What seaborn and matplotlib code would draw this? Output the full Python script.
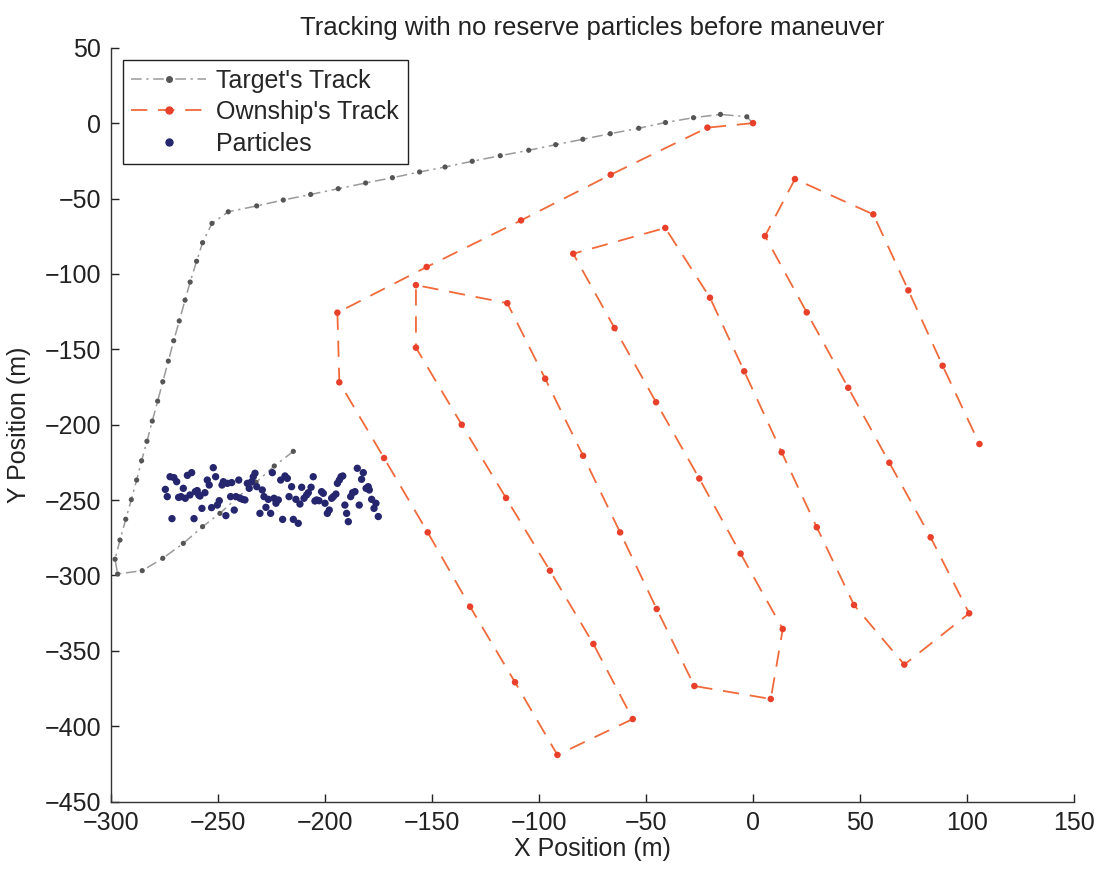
import matplotlib
matplotlib.use("Agg")
import matplotlib.pyplot as plt
import seaborn as sns
import pandas as pd
from matplotlib.lines import Line2D

# Target track (m)
target_x = [0, -2.9, -15.2, -27.8, -40.9, -53.4, -66.7, -79.5, -92.2, -104.8,
            -118.1, -131.2, -143.9, -155.8, -168.5, -181.0, -193.8, -206.7, -219.5, -231.9,
            -245.2, -252.8, -257.2, -260.0, -263.0, -265.4, -268.1, -270.7, -273.2, -275.8,
            -278.2, -280.7, -283.2, -285.7, -288.0, -290.5, -293.1, -295.8, -298.1, -296.9,
            -285.4, -275.8, -266.2, -257.2, -249.1, -240.5, -232.2, -223.7, -214.8]
target_y = [0, 4.2, 5.8, 3.6, 0.4, -3.4, -7.0, -10.7, -14.3, -18.0,
            -21.6, -25.3, -29.1, -32.4, -36.2, -39.7, -43.5, -47.3, -51.0, -54.9,
            -58.8, -66.5, -79.3, -91.6, -105.4, -117.4, -131.2, -144.3, -157.8, -171.5,
            -184.4, -197.6, -211.0, -223.9, -236.7, -249.7, -262.7, -276.5, -289.2, -299.0,
            -296.8, -288.6, -278.7, -267.6, -258.8, -247.7, -238.2, -227.4, -217.7]

# Ownship track (m)
own_x = [0, -21.3, -66.5, -108.4, -152.5, -194.2, -193.3, -172.4, -152.0, -132.2,
         -111.2, -91.4, -56.2, -74.6, -94.9, -115.4, -136.1, -157.5, -157.5, -114.8,
         -97.1, -79.4, -62.1, -45.0, -27.4, 8.3, 13.9, -5.8, -25.1, -45.3,
         -64.7, -84.0, -41.0, -20.1, -4.1, 13.4, 29.8, 47.2, 70.7, 101.0,
         83.0, 63.7, 44.5, 25.1, 5.6, 19.6, 56.2, 72.6, 88.6, 105.8]
own_y = [0, -3.0, -34.2, -64.5, -95.4, -125.7, -171.9, -222.1, -271.4, -320.7,
         -370.8, -419.0, -395.2, -345.4, -296.8, -248.6, -200.0, -148.9, -107.4, -119.4,
         -169.5, -220.6, -271.4, -322.2, -373.3, -381.9, -335.5, -285.5, -235.7, -185.1,
         -135.9, -86.6, -69.5, -115.8, -164.6, -218.3, -268.0, -319.6, -359.1, -325.1,
         -274.7, -225.2, -175.5, -125.5, -74.9, -37.1, -60.5, -110.9, -160.9, -212.8]

# Particle cloud (m)
part_x = [-274.6, -273.7, -272.4, -270.6, -269.3, -271.5, -268.4, -267.3, -266.2, -265.3,
          -264.3, -263.1, -262.3, -261.2, -260.6, -259.7, -259.0, -258.4, -257.5, -256.1,
          -255.0, -254.1, -253.0, -252.2, -251.1, -250.3, -249.4, -248.1, -247.5, -246.3,
          -245.6, -244.1, -243.6, -242.4, -241.6, -240.3, -239.7, -238.5, -237.4, -236.3,
          -235.4, -234.3, -233.5, -232.7, -231.9, -230.4, -229.3, -228.5, -227.6, -226.5,
          -225.4, -224.6, -223.8, -222.9, -221.8, -220.7, -219.8, -218.7, -217.6, -216.8,
          -215.6, -214.8, -213.6, -212.5, -211.7, -210.9, -209.8, -208.6, -207.8, -206.5,
          -205.5, -204.7, -203.9, -202.8, -201.6, -200.8, -200.0, -198.9, -198.0, -196.9,
          -196.1, -194.9, -194.2, -193.3, -192.5, -191.7, -190.7, -189.9, -189.1, -188.0,
          -187.1, -186.0, -184.9, -184.0, -182.9, -182.1, -180.8, -179.8, -179.3, -178.2,
          -177.1, -176.2, -175.1]
part_y = [-242.9, -247.7, -234.5, -235.1, -237.8, -262.3, -248.2, -247.7, -242.2, -248.8,
          -233.6, -246.6, -231.8, -262.3, -244.4, -243.7, -246.6, -247.3, -255.5, -245.1,
          -236.7, -240.0, -255.0, -228.5, -234.5, -253.3, -250.4, -240.0, -237.8, -260.3,
          -238.9, -247.7, -238.4, -256.6, -247.7, -236.7, -248.8, -249.5, -249.9, -238.9,
          -242.2, -237.8, -234.5, -232.2, -241.1, -258.8, -243.3, -247.7, -254.8, -249.5,
          -258.8, -231.8, -248.8, -252.1, -249.9, -236.7, -262.8, -234.0, -235.6, -247.7,
          -241.1, -262.8, -249.5, -265.4, -252.6, -241.5, -248.8, -246.6, -245.1, -241.5,
          -234.5, -250.6, -249.9, -250.4, -244.4, -245.5, -252.1, -258.8, -256.6, -248.8,
          -247.7, -246.0, -238.9, -236.7, -234.5, -234.0, -253.3, -258.8, -264.3, -247.7,
          -245.1, -244.4, -228.9, -253.3, -236.2, -231.8, -242.2, -241.1, -243.3, -249.5,
          -255.5, -252.1, -260.9]

x_ticks = [-300, -250, -200, -150, -100, -50, 0, 50, 100, 150]
y_ticks = [50, 0, -50, -100, -150, -200, -250, -300, -350, -400, -450]

sns.set_theme(style="white")
plt.rcParams["font.family"] = ["Liberation Sans", "DejaVu Sans"]
plt.rcParams["axes.unicode_minus"] = True
plt.rcParams["xtick.direction"] = "in"
plt.rcParams["ytick.direction"] = "in"

target_line = "#9a9a9a"
target_mark = "#555555"
own_line = "#f06a3a"
own_mark = "#e8402a"
part_col = "#25266e"
text_col = "#222222"

fig = plt.figure(figsize=(11.01, 8.71), dpi=100)
ax = fig.add_axes([0.1008, 0.0796, 0.8747, 0.8656])

df_t = pd.DataFrame({"x": target_x, "y": target_y})
df_o = pd.DataFrame({"x": own_x, "y": own_y})
df_p = pd.DataFrame({"x": part_x, "y": part_y})

target_ls = (0, (7, 3, 1.5, 3))
own_ls = (0, (9, 6))

sns.lineplot(data=df_t, x="x", y="y", sort=False, estimator=None, ax=ax,
             color=target_line, lw=1.1, linestyle=target_ls)
sns.scatterplot(data=df_t, x="x", y="y", ax=ax, color=target_mark, s=14,
                edgecolor="none", zorder=3)

sns.lineplot(data=df_o, x="x", y="y", sort=False, estimator=None, ax=ax,
             color=own_line, lw=1.3, linestyle=own_ls)
sns.scatterplot(data=df_o, x="x", y="y", ax=ax, color=own_mark, s=22,
                edgecolor="none", zorder=3)

sns.scatterplot(data=df_p, x="x", y="y", ax=ax, color=part_col, s=28,
                edgecolor="none", zorder=4)

ax.set_xlim(-300, 150)
ax.set_ylim(-450, 50)
ax.set_xticks(x_ticks)
ax.set_yticks(y_ticks)
ax.tick_params(axis="both", direction="in", length=6, width=1, labelsize=18,
               colors=text_col, left=True, bottom=True)
ax.tick_params(axis="x", pad=7)
ax.tick_params(axis="y", pad=7)
for side in ("top", "right"):
    ax.spines[side].set_visible(False)
for side in ("left", "bottom"):
    ax.spines[side].set_color("#333333")
    ax.spines[side].set_linewidth(1.0)

ax.set_xlabel("X Position (m)", fontsize=18, color=text_col, labelpad=1)
ax.set_ylabel("Y Position (m)", fontsize=18, color=text_col, labelpad=10)
ax.set_title("Tracking with no reserve particles before maneuver", fontsize=18.5,
             color=text_col, pad=9)

handles = [
    Line2D([], [], color=target_line, lw=1.1, linestyle=target_ls,
           marker="o", markersize=4, markerfacecolor=target_mark,
           markeredgecolor=target_mark),
    Line2D([], [], color=own_line, lw=1.3, linestyle=own_ls,
           marker="o", markersize=5, markerfacecolor=own_mark,
           markeredgecolor=own_mark),
    Line2D([], [], color=part_col, lw=0, marker="o", markersize=5,
           markerfacecolor=part_col, markeredgecolor=part_col),
]
leg = ax.legend(handles, ["Target's Track", "Ownship's Track", "Particles"],
                loc="upper left", bbox_to_anchor=(0.012, 0.984), fontsize=18,
                frameon=True, fancybox=False, framealpha=1, edgecolor=text_col,
                handlelength=3.0, handletextpad=0.4, borderpad=0.35,
                labelspacing=0.3, borderaxespad=0.0)
leg.get_frame().set_linewidth(1.0)

fig.savefig("out.png", dpi=100, facecolor="white")
